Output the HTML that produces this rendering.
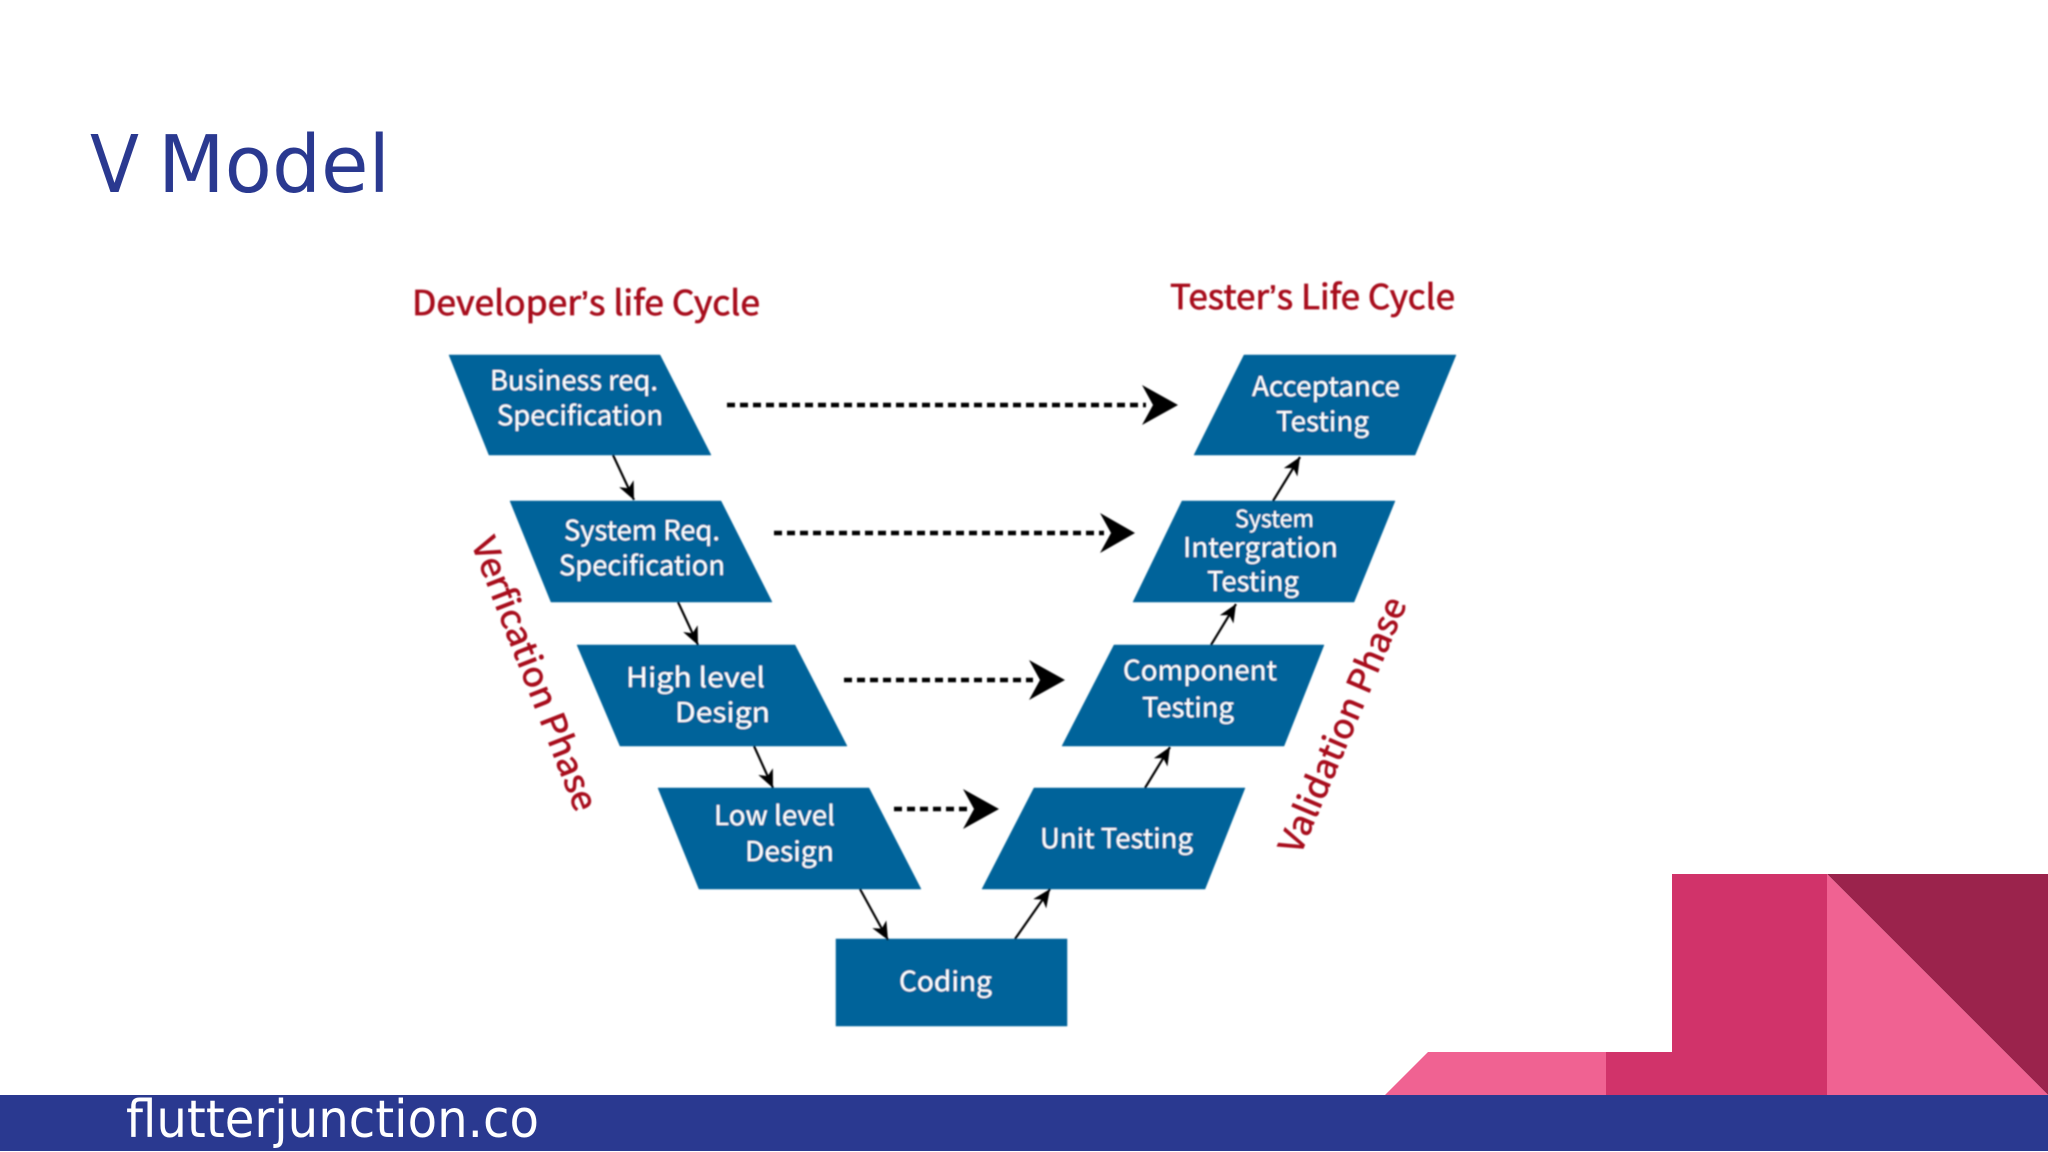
<!DOCTYPE html>
<html lang="en">
<head>
<meta charset="utf-8">
<title>V Model</title>
<style>
html,body{margin:0;padding:0;background:#fff;width:2048px;height:1152px;overflow:hidden}
svg{display:block}
.title{font-family:"DejaVu Sans","Liberation Sans",sans-serif}
.d text{font-family:"Noto Sans CJK SC","Liberation Sans",sans-serif}
.w{fill:#fff;font-size:27px}
.r{fill:#a80f1e;stroke:#a80f1e;stroke-width:.7;font-size:34px}
.s{fill:#05639a;stroke:#05639a;stroke-width:.5}
.dot{stroke:#000;stroke-width:4.5;stroke-dasharray:8 5;fill:none}
.ln{stroke:#000;stroke-width:2.2;fill:none;marker-end:url(#a)}
</style>
</head>
<body>
<svg width="2048" height="1152" viewBox="0 0 2048 1152" xmlns="http://www.w3.org/2000/svg">
<defs>
<marker id="a" markerUnits="userSpaceOnUse" markerWidth="20" markerHeight="18" viewBox="0 -9 20 18" refX="18" refY="0" orient="auto">
<path d="M0 -8 L18 0 L0 8 L5 0 Z" fill="#000"/>
</marker>
<filter id="b" x="-5%" y="-5%" width="110%" height="110%"><feGaussianBlur stdDeviation="0.7"/></filter>
</defs>
<rect width="2048" height="1152" fill="#fff"/>

<text class="title" x="90" y="192" font-size="79" fill="#2a3990" textLength="49" lengthAdjust="spacingAndGlyphs">V</text>
<text class="title" x="158" y="192" font-size="79" fill="#2a3990" textLength="232" lengthAdjust="spacingAndGlyphs">Model</text>

<g class="d" filter="url(#b)">
<text class="r" x="412" y="315" textLength="348" lengthAdjust="spacingAndGlyphs">Developer<tspan font-family="Liberation Sans">’</tspan>s life Cycle</text>
<text class="r" x="1170" y="309" textLength="285" lengthAdjust="spacingAndGlyphs">Tester<tspan font-family="Liberation Sans">’</tspan>s Life Cycle</text>

<polygon class="s" points="449,355 660,355 711,455 489,455"/>
<polygon class="s" points="510,501 721,501 772,602 551,602"/>
<polygon class="s" points="577,645 795,645 847,746 620,746"/>
<polygon class="s" points="658,788 869,788 921,889 699,889"/>
<rect class="s" x="836" y="939" width="231" height="87"/>
<polygon class="s" points="1244,355 1456,355 1415,455 1194,455"/>
<polygon class="s" points="1182,501 1395,501 1354,602 1133,602"/>
<polygon class="s" points="1114,645 1324,645 1284,746 1062,746"/>
<polygon class="s" points="1034,788 1245,788 1205,889 982,889"/>

<g transform="translate(-1 1)">
<text class="w" x="491" y="389" textLength="168" lengthAdjust="spacingAndGlyphs">Business req.</text>
<text class="w" x="498" y="424" textLength="166" lengthAdjust="spacingAndGlyphs">Specification</text>
<text class="w" x="565" y="539" textLength="156" lengthAdjust="spacingAndGlyphs">System Req.</text>
<text class="w" x="560" y="574" textLength="166" lengthAdjust="spacingAndGlyphs">Specification</text>
<text class="w" x="627" y="686" textLength="139" lengthAdjust="spacingAndGlyphs">High level</text>
<text class="w" x="676" y="721" textLength="95" lengthAdjust="spacingAndGlyphs">Design</text>
<text class="w" x="715" y="824" textLength="121" lengthAdjust="spacingAndGlyphs">Low level</text>
<text class="w" x="746" y="860" textLength="89" lengthAdjust="spacingAndGlyphs">Design</text>
<text class="w" x="900" y="990" textLength="93" lengthAdjust="spacingAndGlyphs">Coding</text>
<text class="w" x="1253" y="395" textLength="148" lengthAdjust="spacingAndGlyphs">Acceptance</text>
<text class="w" x="1277" y="430" textLength="93" lengthAdjust="spacingAndGlyphs">Testing</text>
<text class="w" x="1236" y="526" style="font-size:23px" textLength="79" lengthAdjust="spacingAndGlyphs">System</text>
<text class="w" x="1184" y="556" textLength="155" lengthAdjust="spacingAndGlyphs">Intergration</text>
<text class="w" x="1208" y="590" textLength="92" lengthAdjust="spacingAndGlyphs">Testing</text>
<text class="w" x="1124" y="679" textLength="154" lengthAdjust="spacingAndGlyphs">Component</text>
<text class="w" x="1143" y="716" textLength="92" lengthAdjust="spacingAndGlyphs">Testing</text>
<text class="w" x="1041" y="847" textLength="153" lengthAdjust="spacingAndGlyphs">Unit Testing</text>
</g>

<text class="r" transform="translate(471 543) rotate(68.8)" textLength="290" lengthAdjust="spacingAndGlyphs">Verfication Phase</text>
<text class="r" transform="translate(1300 856) rotate(-67)" textLength="274" lengthAdjust="spacingAndGlyphs">Validation Phase</text>

<line class="ln" x1="613" y1="455" x2="634" y2="500"/>
<line class="ln" x1="678" y1="602" x2="698" y2="645"/>
<line class="ln" x1="754" y1="746" x2="773" y2="788"/>
<line class="ln" x1="860" y1="889" x2="888" y2="940"/>
<line class="ln" x1="1015" y1="939" x2="1050" y2="889"/>
<line class="ln" x1="1145" y1="788" x2="1170" y2="747"/>
<line class="ln" x1="1211" y1="645" x2="1236" y2="604"/>
<line class="ln" x1="1273" y1="501" x2="1300" y2="457"/>

<line class="dot" x1="727" y1="405" x2="1146" y2="405"/>
<polygon points="1142,385 1178,405 1142,425 1153,405"/>
<line class="dot" x1="774" y1="533" x2="1104" y2="533"/>
<polygon points="1100,513 1135,533 1100,553 1111,533"/>
<line class="dot" x1="844" y1="680" x2="1033" y2="680"/>
<polygon points="1029,660 1065,680 1029,700 1040,680"/>
<line class="dot" x1="894" y1="809" x2="967" y2="809"/>
<polygon points="963,789 999,809 963,829 974,809"/>
</g>

<polygon points="1385,1095 1428,1052 1606,1052 1606,1095" fill="#f06292"/>
<polygon points="1606,1052 1672,1052 1672,874 1827,874 1827,1095 1606,1095" fill="#d1336a"/>
<polygon points="1827,874 2048,874 2048,1095" fill="#9b234c"/>
<polygon points="1827,874 2048,1095 1827,1095" fill="#f06292"/>

<rect x="0" y="1095" width="2048" height="56" fill="#2a3990"/>
<text class="title" x="126" y="1137" font-size="52" fill="#fff" textLength="413" lengthAdjust="spacingAndGlyphs">flutterjunction.co</text>
</svg>
</body>
</html>
